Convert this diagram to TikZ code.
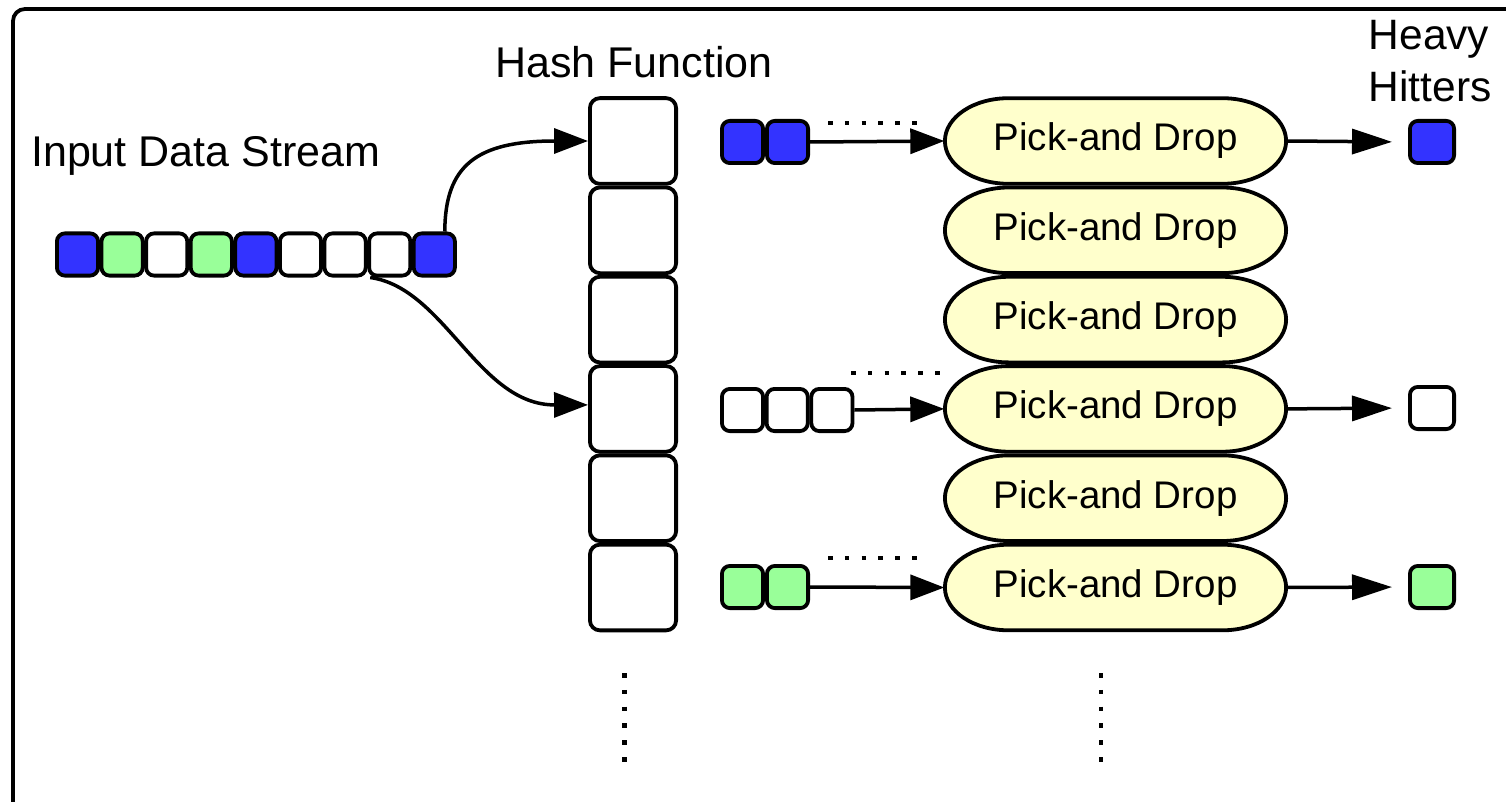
\documentclass[tikz,border=0pt]{standalone}
\usepackage{fontspec}
\setmainfont{Liberation Sans}
\usetikzlibrary{arrows.meta}
\definecolor{hblue}{HTML}{3333FF}
\definecolor{hgreen}{HTML}{99FF99}
\definecolor{hyellow}{HTML}{FFFFCC}
\newcommand\pdrop[2]{%
  \draw[pdshape] (1008.5,#2-42.8) -- (1222.5,#2-42.8)
    arc[start angle=90,end angle=-90,x radius=63.6pt,y radius=42.8pt]
    -- (1008.5,#2+42.8)
    arc[start angle=270,end angle=90,x radius=63.6pt,y radius=42.8pt] -- cycle;
  \node[pdnode] (#1) at (1115.5,#2) {Pick-and Drop};}
\begin{document}
\begin{tikzpicture}[x=1pt,y=-1pt,
  every node/.style={inner sep=0pt},
  cell/.style={draw, line width=3.8pt, rounded corners=8pt, minimum width=41.2pt, minimum height=42.2pt},
  bluecell/.style={cell, fill=hblue},
  greencell/.style={cell, fill=hgreen},
  whitecell/.style={cell, fill=white},
  outcell/.style={minimum width=44.2pt},
  hashcell/.style={draw, line width=3.8pt, rounded corners=10pt, fill=white, minimum width=86.2pt, minimum height=85.7pt},
  conn/.style={line width=3.5pt, -{Triangle[length=34pt,width=25pt]}},
  outconn/.style={line width=3.5pt, -{Triangle[length=40pt,width=25pt]}, shorten >=16pt},
  dotline/.style={line width=4.5pt, dash pattern=on 4.5pt off 12.3pt},
  lbl/.style={font=\fontsize{43}{50}\selectfont},
  lbltwo/.style={font=\fontsize{42.5}{50}\selectfont},
  pdnode/.style={minimum width=342pt, minimum height=86.5pt, font=\fontsize{38.5}{44}\selectfont},
  pdshape/.style={draw, line width=3.8pt, fill=hyellow}
]
\useasboundingbox (0,0) rectangle (1506,802);
\clip (0,0) rectangle (1506,802);
\draw[line width=3.8pt, rounded corners=12pt] (13,9) rectangle (1540,840);

% labels
\node[lbl, anchor=base west] (lin) at (31,167) {Input Data Stream};
\node[lbl, anchor=base] (lhash) at (634,78) {Hash Function};
\node[lbltwo, anchor=base west] (lhv1) at (1368.5,50) {Heavy};
\node[lbltwo, anchor=base west] (lhv2) at (1368.5,101.5) {Hitters};

% input stream
\node[bluecell]  (s1) at (77.5,254.5) {};
\node[greencell] (s2) at (122.1,254.5) {};
\node[whitecell] (s3) at (166.7,254.5) {};
\node[greencell] (s4) at (211.3,254.5) {};
\node[bluecell]  (s5) at (255.9,254.5) {};
\node[whitecell] (s6) at (300.5,254.5) {};
\node[whitecell] (s7) at (345.1,254.5) {};
\node[whitecell] (s8) at (389.7,254.5) {};
\node[bluecell]  (s9) at (434.3,254.5) {};

% hash cells
\node[hashcell] (h1) at (633,141) {};
\node[hashcell] (h2) at (633,230.3) {};
\node[hashcell] (h3) at (633,319.6) {};
\node[hashcell] (h4) at (633,408.9) {};
\node[hashcell] (h5) at (633,498.2) {};
\node[hashcell] (h6) at (633,587.5) {};

% pick-and-drop
\pdrop{p1}{141}
\pdrop{p2}{230.3}
\pdrop{p3}{319.6}
\pdrop{p4}{408.9}
\pdrop{p5}{498.2}
\pdrop{p6}{587.5}

% row inputs
\node[bluecell] (b1) at (742.5,142) {};
\node[bluecell] (b2) at (787.5,142) {};
\node[whitecell] (w1) at (742.5,410) {};
\node[whitecell] (w2) at (787.2,410) {};
\node[whitecell] (w3) at (831.9,410) {};
\node[greencell] (g1) at (742.5,587) {};
\node[greencell] (g2) at (787.5,587) {};

% heavy hitters
\node[bluecell, outcell] (o1) at (1432,142) {};
\node[whitecell, outcell] (o2) at (1432,408) {};
\node[greencell, outcell] (o3) at (1432,587) {};

% connectors
\draw[conn] ([xshift=10.5pt]s9.north) .. controls (445,166) and (476,141) .. (h1.west);
\draw[conn] ([xshift=3pt]s8.south west) .. controls (445,288) and (478,405) .. ([yshift=4pt]h4.west);
\draw[conn] (b2.east) -- (p1.west);
\draw[conn] (w3.east) -- (p4.west);
\draw[conn] (g2.east) -- (p6.west);
\draw[outconn] (p1.east) -- (o1.west);
\draw[outconn] (p4.east) -- (o2.west);
\draw[outconn] (p6.east) -- (o3.west);

% dots
\draw[dotline] (828,123) -- (916.5,123);
\draw[dotline] (851,373) -- (939.5,373);
\draw[dotline] (828,558) -- (916.5,558);
\draw[dotline] (624.5,673) -- (624.5,761.5);
\draw[dotline] (1101,673) -- (1101,761.5);
\end{tikzpicture}
\end{document}
